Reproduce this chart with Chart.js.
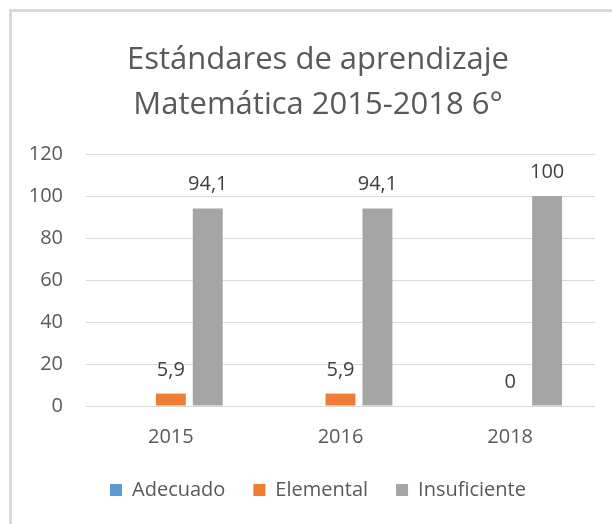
<!DOCTYPE html>
<html>
<head>
<meta charset="utf-8">
<script src="https://cdn.jsdelivr.net/npm/chart.js@4.4.1/dist/chart.umd.min.js"></script>
<style>
  body { margin: 0; background: #fff; overflow: hidden; }
  #frame {
    position: absolute; left: 9px; top: 9px;
    width: 600px; height: 516px;
    border-left: 3px solid #d9d9d9; border-top: 3px solid #d9d9d9;
  }
  canvas { display: block; }
</style>
</head>
<body>
<div id="frame"><canvas id="chart" width="600" height="516"></canvas></div>
<script>
const years = ['2015', '2016', '2018'];
const adecuado = [null, null, null];
const elemental = [5.9, 5.9, 0];
const insuficiente = [94.1, 94.1, 100];
const titleLines = ['Estándares de aprendizaje', 'Matemática 2015-2018 6°'];
const yMin = 0, yMax = 120, yStep = 20;

const FONT = '"Open Sans", sans-serif';
const TEXT = '#595959';

// numbers over the bars, with a decimal comma
const valueLabels = {
	id: 'valueLabels',
	afterDatasetsDraw(chart) {
		const ctx = chart.ctx;
		ctx.save();
		ctx.font = '20px ' + FONT;
		ctx.fillStyle = '#404040';
		ctx.textAlign = 'center';
		ctx.textBaseline = 'alphabetic';
		chart.data.datasets.forEach((ds, i) => {
			chart.getDatasetMeta(i).data.forEach((bar, j) => {
				const v = ds.data[j];
				if (v === null || v === undefined) return;
				ctx.fillText(String(v).replace('.', ','), bar.x, bar.y - 18);
			});
		});
		ctx.restore();
	},
};

const chart = new Chart(document.getElementById('chart'), {
	type: 'bar',
	data: {
		labels: years,
		datasets: [
			{ label: 'Adecuado', data: adecuado, backgroundColor: '#5B9BD5' },
			{ label: 'Elemental', data: elemental, backgroundColor: '#ED7D31' },
			{ label: 'Insuficiente', data: insuficiente, backgroundColor: '#A5A5A5' },
		],
	},
	options: {
		responsive: false,
		animation: false,
		categoryPercentage: 0.653,
		barPercentage: 0.81,
		layout: { padding: { left: 12, right: 0, top: 0, bottom: 18 } },
		plugins: {
			title: {
				display: true,
				text: titleLines,
				color: TEXT,
				font: { family: FONT, size: 31, weight: 'normal', lineHeight: 45 / 31 },
				padding: { top: 26, bottom: 26 },
			},
			legend: {
				position: 'bottom',
				labels: {
					color: TEXT,
					font: { family: FONT, size: 20 },
					boxWidth: 12,
					boxHeight: 12,
					padding: 28,
				},
			},
			tooltip: { enabled: false },
		},
		scales: {
			x: {
				grid: { display: false, drawTicks: false },
				border: { display: false },
				ticks: { color: TEXT, font: { family: FONT, size: 20 }, padding: 19 },
				afterFit(scale) { scale.height = 46; },
			},
			y: {
				min: yMin,
				max: yMax,
				grid: { color: '#d9d9d9', drawTicks: false },
				border: { display: false },
				ticks: { stepSize: yStep, color: TEXT, font: { family: FONT, size: 20 }, padding: 23 },
				afterFit(scale) { scale.width = 62; },
			},
			// empty right-hand axis, only keeps the plot off the right edge
			yR: {
				type: 'linear',
				position: 'right',
				grid: { display: false },
				border: { display: false },
				ticks: { display: false },
				afterFit(scale) { scale.width = 17; },
			},
		},
	},
	plugins: [valueLabels],
});
</script>
</body>
</html>
